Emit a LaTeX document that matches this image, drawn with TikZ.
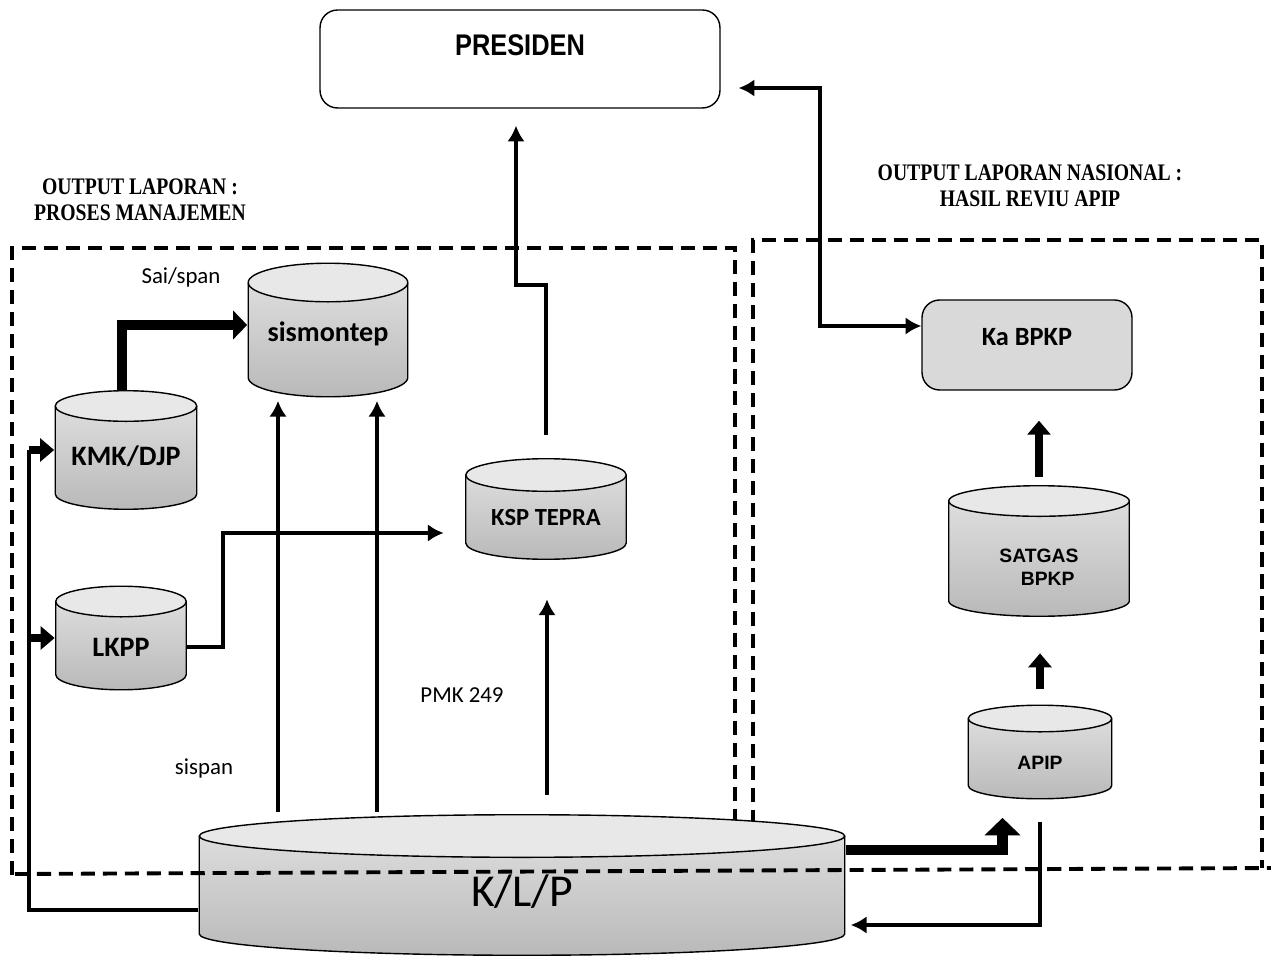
\documentclass[tikz,border=0pt]{standalone}
\usepackage{fontspec}
\setmainfont{Carlito}
\newfontfamily\arialfont{Liberation Sans}
\newfontfamily\narrowfont[FakeStretch=0.85]{Liberation Sans}
\newfontfamily\timesfont[FakeStretch=0.83]{Liberation Serif}
\usetikzlibrary{positioning,arrows.meta,shapes.geometric,calc}

\begin{document}
\begin{tikzpicture}[x=0.02cm,y=-0.02cm,>=Latex,
  db/.style n args={3}{minimum width=#1,minimum height=#2,inner sep=0pt,text depth=0pt,
    font=\bfseries\fontsize{16}{18}\selectfont,
    path picture={
      \shade[top color=gray!22,bottom color=gray!55]
        ([xshift=0.4pt,yshift=-#3]path picture bounding box.north west)
        -- ([xshift=0.4pt,yshift=#3]path picture bounding box.south west)
        arc[start angle=180,end angle=360,x radius=#1/2-0.4pt,y radius=#3-0.4pt]
        -- ([xshift=-0.4pt,yshift=-#3]path picture bounding box.north east) -- cycle;
      \draw[thick] ([xshift=0.4pt,yshift=-#3]path picture bounding box.north west)
        -- ([xshift=0.4pt,yshift=#3]path picture bounding box.south west)
        arc[start angle=180,end angle=360,x radius=#1/2-0.4pt,y radius=#3-0.4pt]
        -- ([xshift=-0.4pt,yshift=-#3]path picture bounding box.north east);
      \draw[thick,fill=gray!18] ([yshift=-#3]path picture bounding box.north)
        ellipse[x radius=#1/2-0.4pt,y radius=#3-0.4pt];}},
  box/.style={rounded corners=10pt,draw,thick},
  ln/.style={line width=2.2pt,-{Latex[length=9pt,width=10pt]}},
  ln2/.style={line width=2.2pt,{Latex[length=9pt,width=10pt]}-{Latex[length=9pt,width=10pt]}},
  fat/.style={line width=5pt,-{Triangle[length=8pt,width=13pt]}},
  dbox/.style={line width=2.2pt,dash pattern=on 8pt off 4.5pt},
  lbl/.style={font=\fontsize{13}{15}\selectfont},
  ttl/.style={font=\timesfont\bfseries\fontsize{13.5}{14.5}\selectfont,align=center}]
\useasboundingbox (0,0) rectangle (1271,959);

\draw[dbox] (12,875) -- (12,248) -- (735,248) -- (735,872);
\draw[dbox] (753,868) -- (753,240) -- (1262,240) -- (1262,868);

\node[box,minimum width=8cm,minimum height=1.96cm,text depth=0.56cm,
  font=\narrowfont\bfseries\fontsize{17}{19}\selectfont] (pres) at (520,59) {PRESIDEN};
\node[box,fill=gray!30,minimum width=4.2cm,minimum height=1.8cm,text depth=0.34cm,
  font=\bfseries\fontsize{15}{17}\selectfont] (kab) at (1027,345) {Ka BPKP};

\node[db={3.22cm}{2.7cm}{0.4cm},text height=13.6pt] (sis) at (328,330) {sismontep};
\node[db={2.86cm}{2.4cm}{0.32cm},text height=18pt] (kmk) at (126,450) {KMK/DJP};
\node[db={2.64cm}{2.1cm}{0.32cm},text height=21.5pt] (lkpp) at (121,638) {LKPP};
\node[db={3.24cm}{2.04cm}{0.34cm},text height=19.3pt,font=\bfseries\fontsize{14}{16}\selectfont] (ksp) at (546,509) {KSP TEPRA};
\node[db={3.64cm}{2.64cm}{0.32cm},text height=52.5pt,text depth=13pt,align=center,
  font=\arialfont\bfseries\fontsize{11}{13}\selectfont] (sat) at (1039,551) {SATGAS\\\hspace*{0.9em}BPKP};
\node[db={2.9cm}{1.9cm}{0.28cm},text height=20.4pt,
  font=\arialfont\bfseries\fontsize{11}{13}\selectfont] (apip) at (1040,752) {APIP};
\node[db={12.94cm}{2.84cm}{0.44cm},text height=25pt,
  font=\fontsize{26}{28}\selectfont] (klp) at (522,885) {K/L/P};

\draw[dbox] (15,874) -- (1271,868);

\node[ttl] (t1) at (140,200) {OUTPUT LAPORAN :\\PROSES MANAJEMEN};
\node[ttl] (t2) at (1030,186) {OUTPUT LAPORAN NASIONAL :\\HASIL REVIU APIP};
\node[lbl] (sai) at (181,277) {Sai/span};
\node[lbl] (pmk) at (462,695) {PMK 249};
\node[lbl] (sisp) at (204,768) {sispan};

\coordinate (fb) at (29,0);
\draw[line width=2.3pt] ([yshift=-0.5cm]klp.west) -| (kmk.west -| fb);
\draw[fat] (kmk.west -| fb) -- (kmk.west);
\draw[fat] (lkpp.west -| fb) -- (lkpp.west);
\draw[line width=5.5pt,-{Triangle[length=8pt,width=16pt]}] ([xshift=-0.08cm]kmk.north) |- ([yshift=0.1cm]sis.west);
\draw[ln] ([yshift=-0.18cm]lkpp.east) -- ++(0.72cm,0) |- ([yshift=-0.48cm,xshift=-0.42cm]ksp.west);

\coordinate (s1) at (278,812); \coordinate (s2) at (377,812);
\draw[ln,shorten >=0.06cm] (s1) -- (s1 |- sis.south);
\draw[ln,shorten >=0.06cm] (s2) -- (s2 |- sis.south);
\coordinate (pm) at (547,795);
\draw[ln,shorten >=0.78cm] (pm) -- (pm |- ksp.south);
\coordinate (kp) at (516,285);
\draw[ln,shorten >=0.34cm] ([yshift=0.46cm]ksp.north) |- (kp) -- (kp |- pres.south);
\coordinate (kb) at (820,88);
\draw[ln2,shorten <=0.36cm] (pres.east |- kb) -- (kb) |- ([yshift=0.38cm]kab.west);

\draw[line width=6pt,-{Triangle[length=10pt,width=20pt]},shorten >=0.36cm] ([yshift=0.7cm]klp.east) -| ([xshift=-0.75cm]apip.south);
\draw[ln,shorten >=0.1cm] ([yshift=-0.44cm]apip.south) |- ([yshift=-0.8cm]klp.east);
\draw[fat,shorten <=0.3cm,shorten >=0.72cm] (apip.north) -- (apip.north |- sat.south);
\draw[fat,shorten <=0.15cm,shorten >=0.6cm] (sat.north) -- (sat.north |- kab.south);
\end{tikzpicture}
\end{document}
